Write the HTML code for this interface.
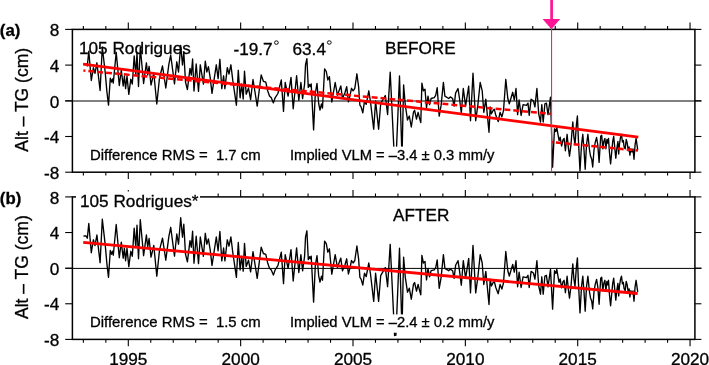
<!DOCTYPE html><html><head><meta charset="utf-8"><style>html,body{margin:0;padding:0;background:#fff;overflow:hidden}svg{display:block}</style></head><body><svg style="will-change:transform" width="709" height="365" viewBox="0 0 709 365">
<style>.tk{stroke:#000;stroke-width:1.1}.fr{fill:none;stroke:#000;stroke-width:1.5}.zl{stroke:#000;stroke-width:1}.tl{font-size:17.2px}text{font-family:"Liberation Sans",sans-serif;fill:#000;stroke:#000;stroke-width:0.3px}.dat{fill:none;stroke:#000;stroke-width:1.35;stroke-linejoin:round}.rs{stroke:#f00;stroke-width:2.8}.rd{stroke:#f00;stroke-width:2.5;stroke-dasharray:5.9 2.99}</style>
<rect width="709" height="365" fill="#fff"/>
<line x1="83.36" y1="29.40" x2="83.36" y2="26.00" class="tk"/>
<line x1="83.36" y1="172.20" x2="83.36" y2="175.60" class="tk"/>
<line x1="105.83" y1="29.40" x2="105.83" y2="26.00" class="tk"/>
<line x1="105.83" y1="172.20" x2="105.83" y2="175.60" class="tk"/>
<line x1="128.30" y1="29.40" x2="128.30" y2="22.60" class="tk"/>
<line x1="128.30" y1="172.20" x2="128.30" y2="179.00" class="tk"/>
<line x1="150.77" y1="29.40" x2="150.77" y2="26.00" class="tk"/>
<line x1="150.77" y1="172.20" x2="150.77" y2="175.60" class="tk"/>
<line x1="173.24" y1="29.40" x2="173.24" y2="26.00" class="tk"/>
<line x1="173.24" y1="172.20" x2="173.24" y2="175.60" class="tk"/>
<line x1="195.71" y1="29.40" x2="195.71" y2="26.00" class="tk"/>
<line x1="195.71" y1="172.20" x2="195.71" y2="175.60" class="tk"/>
<line x1="218.18" y1="29.40" x2="218.18" y2="26.00" class="tk"/>
<line x1="218.18" y1="172.20" x2="218.18" y2="175.60" class="tk"/>
<line x1="240.65" y1="29.40" x2="240.65" y2="22.60" class="tk"/>
<line x1="240.65" y1="172.20" x2="240.65" y2="179.00" class="tk"/>
<line x1="263.12" y1="29.40" x2="263.12" y2="26.00" class="tk"/>
<line x1="263.12" y1="172.20" x2="263.12" y2="175.60" class="tk"/>
<line x1="285.59" y1="29.40" x2="285.59" y2="26.00" class="tk"/>
<line x1="285.59" y1="172.20" x2="285.59" y2="175.60" class="tk"/>
<line x1="308.06" y1="29.40" x2="308.06" y2="26.00" class="tk"/>
<line x1="308.06" y1="172.20" x2="308.06" y2="175.60" class="tk"/>
<line x1="330.53" y1="29.40" x2="330.53" y2="26.00" class="tk"/>
<line x1="330.53" y1="172.20" x2="330.53" y2="175.60" class="tk"/>
<line x1="353.00" y1="29.40" x2="353.00" y2="22.60" class="tk"/>
<line x1="353.00" y1="172.20" x2="353.00" y2="179.00" class="tk"/>
<line x1="375.47" y1="29.40" x2="375.47" y2="26.00" class="tk"/>
<line x1="375.47" y1="172.20" x2="375.47" y2="175.60" class="tk"/>
<line x1="397.94" y1="29.40" x2="397.94" y2="26.00" class="tk"/>
<line x1="397.94" y1="172.20" x2="397.94" y2="175.60" class="tk"/>
<line x1="420.41" y1="29.40" x2="420.41" y2="26.00" class="tk"/>
<line x1="420.41" y1="172.20" x2="420.41" y2="175.60" class="tk"/>
<line x1="442.88" y1="29.40" x2="442.88" y2="26.00" class="tk"/>
<line x1="442.88" y1="172.20" x2="442.88" y2="175.60" class="tk"/>
<line x1="465.35" y1="29.40" x2="465.35" y2="22.60" class="tk"/>
<line x1="465.35" y1="172.20" x2="465.35" y2="179.00" class="tk"/>
<line x1="487.82" y1="29.40" x2="487.82" y2="26.00" class="tk"/>
<line x1="487.82" y1="172.20" x2="487.82" y2="175.60" class="tk"/>
<line x1="510.29" y1="29.40" x2="510.29" y2="26.00" class="tk"/>
<line x1="510.29" y1="172.20" x2="510.29" y2="175.60" class="tk"/>
<line x1="532.76" y1="29.40" x2="532.76" y2="26.00" class="tk"/>
<line x1="532.76" y1="172.20" x2="532.76" y2="175.60" class="tk"/>
<line x1="555.23" y1="29.40" x2="555.23" y2="26.00" class="tk"/>
<line x1="555.23" y1="172.20" x2="555.23" y2="175.60" class="tk"/>
<line x1="577.70" y1="29.40" x2="577.70" y2="22.60" class="tk"/>
<line x1="577.70" y1="172.20" x2="577.70" y2="179.00" class="tk"/>
<line x1="600.17" y1="29.40" x2="600.17" y2="26.00" class="tk"/>
<line x1="600.17" y1="172.20" x2="600.17" y2="175.60" class="tk"/>
<line x1="622.64" y1="29.40" x2="622.64" y2="26.00" class="tk"/>
<line x1="622.64" y1="172.20" x2="622.64" y2="175.60" class="tk"/>
<line x1="645.11" y1="29.40" x2="645.11" y2="26.00" class="tk"/>
<line x1="645.11" y1="172.20" x2="645.11" y2="175.60" class="tk"/>
<line x1="667.58" y1="29.40" x2="667.58" y2="26.00" class="tk"/>
<line x1="667.58" y1="172.20" x2="667.58" y2="175.60" class="tk"/>
<line x1="690.05" y1="29.40" x2="690.05" y2="22.60" class="tk"/>
<line x1="690.05" y1="172.20" x2="690.05" y2="179.00" class="tk"/>
<line x1="65.20" y1="172.20" x2="72.40" y2="172.20" class="tk"/>
<line x1="694.90" y1="172.20" x2="701.40" y2="172.20" class="tk"/>
<text x="59.4" y="178.90" text-anchor="end" class="tl">-8</text>
<line x1="65.20" y1="136.50" x2="72.40" y2="136.50" class="tk"/>
<line x1="694.90" y1="136.50" x2="701.40" y2="136.50" class="tk"/>
<text x="59.4" y="143.20" text-anchor="end" class="tl">-4</text>
<line x1="65.20" y1="100.80" x2="72.40" y2="100.80" class="tk"/>
<line x1="694.90" y1="100.80" x2="701.40" y2="100.80" class="tk"/>
<text x="59.4" y="107.50" text-anchor="end" class="tl">0</text>
<line x1="65.20" y1="65.10" x2="72.40" y2="65.10" class="tk"/>
<line x1="694.90" y1="65.10" x2="701.40" y2="65.10" class="tk"/>
<text x="59.4" y="71.80" text-anchor="end" class="tl">4</text>
<line x1="65.20" y1="29.40" x2="72.40" y2="29.40" class="tk"/>
<line x1="694.90" y1="29.40" x2="701.40" y2="29.40" class="tk"/>
<text x="59.4" y="36.10" text-anchor="end" class="tl">8</text>
<line x1="65.20" y1="101.00" x2="701.40" y2="101.00" class="zl"/>
<line x1="83.36" y1="196.90" x2="83.36" y2="193.50" class="tk"/>
<line x1="83.36" y1="339.40" x2="83.36" y2="342.80" class="tk"/>
<line x1="105.83" y1="196.90" x2="105.83" y2="193.50" class="tk"/>
<line x1="105.83" y1="339.40" x2="105.83" y2="342.80" class="tk"/>
<line x1="128.30" y1="196.90" x2="128.30" y2="190.10" class="tk"/>
<line x1="128.30" y1="339.40" x2="128.30" y2="346.20" class="tk"/>
<line x1="150.77" y1="196.90" x2="150.77" y2="193.50" class="tk"/>
<line x1="150.77" y1="339.40" x2="150.77" y2="342.80" class="tk"/>
<line x1="173.24" y1="196.90" x2="173.24" y2="193.50" class="tk"/>
<line x1="173.24" y1="339.40" x2="173.24" y2="342.80" class="tk"/>
<line x1="195.71" y1="196.90" x2="195.71" y2="193.50" class="tk"/>
<line x1="195.71" y1="339.40" x2="195.71" y2="342.80" class="tk"/>
<line x1="218.18" y1="196.90" x2="218.18" y2="193.50" class="tk"/>
<line x1="218.18" y1="339.40" x2="218.18" y2="342.80" class="tk"/>
<line x1="240.65" y1="196.90" x2="240.65" y2="190.10" class="tk"/>
<line x1="240.65" y1="339.40" x2="240.65" y2="346.20" class="tk"/>
<line x1="263.12" y1="196.90" x2="263.12" y2="193.50" class="tk"/>
<line x1="263.12" y1="339.40" x2="263.12" y2="342.80" class="tk"/>
<line x1="285.59" y1="196.90" x2="285.59" y2="193.50" class="tk"/>
<line x1="285.59" y1="339.40" x2="285.59" y2="342.80" class="tk"/>
<line x1="308.06" y1="196.90" x2="308.06" y2="193.50" class="tk"/>
<line x1="308.06" y1="339.40" x2="308.06" y2="342.80" class="tk"/>
<line x1="330.53" y1="196.90" x2="330.53" y2="193.50" class="tk"/>
<line x1="330.53" y1="339.40" x2="330.53" y2="342.80" class="tk"/>
<line x1="353.00" y1="196.90" x2="353.00" y2="190.10" class="tk"/>
<line x1="353.00" y1="339.40" x2="353.00" y2="346.20" class="tk"/>
<line x1="375.47" y1="196.90" x2="375.47" y2="193.50" class="tk"/>
<line x1="375.47" y1="339.40" x2="375.47" y2="342.80" class="tk"/>
<line x1="397.94" y1="196.90" x2="397.94" y2="193.50" class="tk"/>
<line x1="397.94" y1="339.40" x2="397.94" y2="342.80" class="tk"/>
<line x1="420.41" y1="196.90" x2="420.41" y2="193.50" class="tk"/>
<line x1="420.41" y1="339.40" x2="420.41" y2="342.80" class="tk"/>
<line x1="442.88" y1="196.90" x2="442.88" y2="193.50" class="tk"/>
<line x1="442.88" y1="339.40" x2="442.88" y2="342.80" class="tk"/>
<line x1="465.35" y1="196.90" x2="465.35" y2="190.10" class="tk"/>
<line x1="465.35" y1="339.40" x2="465.35" y2="346.20" class="tk"/>
<line x1="487.82" y1="196.90" x2="487.82" y2="193.50" class="tk"/>
<line x1="487.82" y1="339.40" x2="487.82" y2="342.80" class="tk"/>
<line x1="510.29" y1="196.90" x2="510.29" y2="193.50" class="tk"/>
<line x1="510.29" y1="339.40" x2="510.29" y2="342.80" class="tk"/>
<line x1="532.76" y1="196.90" x2="532.76" y2="193.50" class="tk"/>
<line x1="532.76" y1="339.40" x2="532.76" y2="342.80" class="tk"/>
<line x1="555.23" y1="196.90" x2="555.23" y2="193.50" class="tk"/>
<line x1="555.23" y1="339.40" x2="555.23" y2="342.80" class="tk"/>
<line x1="577.70" y1="196.90" x2="577.70" y2="190.10" class="tk"/>
<line x1="577.70" y1="339.40" x2="577.70" y2="346.20" class="tk"/>
<line x1="600.17" y1="196.90" x2="600.17" y2="193.50" class="tk"/>
<line x1="600.17" y1="339.40" x2="600.17" y2="342.80" class="tk"/>
<line x1="622.64" y1="196.90" x2="622.64" y2="193.50" class="tk"/>
<line x1="622.64" y1="339.40" x2="622.64" y2="342.80" class="tk"/>
<line x1="645.11" y1="196.90" x2="645.11" y2="193.50" class="tk"/>
<line x1="645.11" y1="339.40" x2="645.11" y2="342.80" class="tk"/>
<line x1="667.58" y1="196.90" x2="667.58" y2="193.50" class="tk"/>
<line x1="667.58" y1="339.40" x2="667.58" y2="342.80" class="tk"/>
<line x1="690.05" y1="196.90" x2="690.05" y2="190.10" class="tk"/>
<line x1="690.05" y1="339.40" x2="690.05" y2="346.20" class="tk"/>
<line x1="65.20" y1="339.40" x2="72.40" y2="339.40" class="tk"/>
<line x1="694.90" y1="339.40" x2="701.40" y2="339.40" class="tk"/>
<text x="59.4" y="346.10" text-anchor="end" class="tl">-8</text>
<line x1="65.20" y1="303.77" x2="72.40" y2="303.77" class="tk"/>
<line x1="694.90" y1="303.77" x2="701.40" y2="303.77" class="tk"/>
<text x="59.4" y="310.47" text-anchor="end" class="tl">-4</text>
<line x1="65.20" y1="268.15" x2="72.40" y2="268.15" class="tk"/>
<line x1="694.90" y1="268.15" x2="701.40" y2="268.15" class="tk"/>
<text x="59.4" y="274.85" text-anchor="end" class="tl">0</text>
<line x1="65.20" y1="232.52" x2="72.40" y2="232.52" class="tk"/>
<line x1="694.90" y1="232.52" x2="701.40" y2="232.52" class="tk"/>
<text x="59.4" y="239.22" text-anchor="end" class="tl">4</text>
<line x1="65.20" y1="196.90" x2="72.40" y2="196.90" class="tk"/>
<line x1="694.90" y1="196.90" x2="701.40" y2="196.90" class="tk"/>
<text x="59.4" y="203.60" text-anchor="end" class="tl">8</text>
<line x1="65.20" y1="268.40" x2="701.40" y2="268.40" class="zl"/>
<rect x="72.4" y="29.4" width="622.50" height="142.80" class="fr"/>
<rect x="72.4" y="196.9" width="622.50" height="142.50" class="fr"/>
<text x="128.30" y="365" text-anchor="middle" class="tl">1995</text>
<text x="240.65" y="365" text-anchor="middle" class="tl">2000</text>
<text x="353.00" y="365" text-anchor="middle" class="tl">2005</text>
<text x="465.35" y="365" text-anchor="middle" class="tl">2010</text>
<text x="577.70" y="365" text-anchor="middle" class="tl">2015</text>
<text x="690.05" y="365" text-anchor="middle" class="tl">2020</text>
<polyline class="dat" points="83.5,63.8 86.1,63.8 87.3,66.0 88.8,51.3 91.3,80.5 93.4,67.6 95.0,73.4 96.9,62.8 100.1,90.5 102.3,47.0 105.3,73.4 106.9,91.6 108.5,105.1 110.3,78.2 111.5,82.0 112.5,79.0 113.3,83.0 116.2,52.3 119.3,85.5 121.3,70.0 123.2,86.0 124.4,76.0 125.6,88.6 127.0,76.0 128.8,94.4 130.8,79.1 132.3,84.0 134.2,56.0 135.8,75.0 137.0,53.0 138.5,86.5 140.3,47.5 143.6,83.5 146.4,62.8 147.7,75.0 149.1,66.3 151.0,85.0 153.8,73.3 156.8,104.0 159.5,78.0 162.5,66.0 165.8,88.0 168.8,64.7 170.7,55.1 174.5,83.9 176.8,61.8 178.5,72.0 180.7,45.5 182.5,65.0 183.8,52.0 185.5,82.0 187.4,89.6 190.0,68.4 191.3,75.0 192.6,59.0 194.0,91.0 196.2,64.0 198.5,91.4 200.3,64.8 203.4,84.1 205.3,61.1 206.8,72.0 208.4,66.7 210.2,77.7 212.0,93.3 216.3,64.8 218.1,78.6 219.9,59.3 221.8,88.7 223.6,75.8 224.9,88.7 227.3,67.6 229.0,74.0 230.9,64.8 232.8,80.4 236.4,105.2 238.3,70.3 240.1,97.8 241.7,84.0 243.2,99.0 244.5,71.2 246.2,94.2 248.5,88.0 250.6,99.7 253.0,79.5 257.2,106.1 261.2,74.9 263.4,81.3 265.8,82.2 267.6,90.5 269.5,96.0 271.3,97.8 273.4,102.9 275.1,97.8 277.9,93.5 281.3,80.0 283.5,111.4 285.2,82.5 288.1,96.1 291.0,77.4 293.2,108.8 296.6,75.7 298.8,100.3 300.9,82.5 302.6,98.6 304.6,84.0 305.5,65.0 306.9,58.6 308.3,87.4 309.6,84.5 310.3,86.5 311.2,83.9 313.6,129.9 315.3,93.5 317.0,83.4 318.7,103.7 320.0,110.0 321.5,104.0 322.5,108.0 324.6,68.9 326.3,71.5 327.8,80.0 329.4,76.6 331.8,102.0 335.2,82.5 337.4,95.2 340.8,85.9 342.5,98.6 345.0,92.5 346.7,86.6 348.4,101.8 350.1,95.1 351.5,88.3 353.1,90.8 354.8,88.3 356.9,73.8 358.6,86.6 359.9,105.2 361.1,106.9 362.8,112.9 364.5,101.0 366.2,104.4 368.8,90.8 370.5,101.8 373.7,129.2 375.6,101.0 378.6,129.2 380.7,103.5 385.3,95.5 387.6,114.5 390.2,72.1 394.6,163.3 395.9,163.0 399.5,76.0 402.0,158.0 403.6,84.9 405.3,105.2 407.5,120.0 409.3,116.0 411.3,127.0 413.5,112.0 414.6,110.3 416.5,119.0 418.1,112.3 419.6,118.4 420.8,122.5 421.9,83.1 423.4,90.8 425.0,89.3 426.5,107.7 428.0,96.2 429.6,104.6 431.1,98.5 434.2,97.7 435.7,95.4 437.2,87.7 439.2,116.1 441.1,105.4 443.4,82.4 444.9,96.2 448.7,98.5 450.3,96.9 452.6,98.5 454.1,106.1 455.6,93.1 458.0,88.5 459.5,98.5 461.3,113.0 463.3,88.5 465.6,106.1 468.7,86.2 470.5,120.7 473.0,73.2 475.7,120.7 477.9,104.6 480.2,82.4 482.2,90.8 483.8,112.3 485.8,99.2 489.0,132.3 490.2,106.9 491.4,113.8 493.0,110.7 494.3,109.2 495.8,115.3 498.2,121.5 500.1,112.3 501.9,116.9 503.5,110.7 505.8,79.3 507.8,98.5 509.3,103.8 511.1,97.7 512.7,92.3 514.3,100.0 516.0,88.5 517.6,114.6 519.1,100.0 521.1,115.3 523.1,104.6 526.5,105.4 528.0,103.1 529.2,115.3 531.1,99.2 533.4,100.8 534.9,106.9 536.9,88.5 538.7,113.8 540.5,122.0 541.8,104.6 543.2,122.0 544.9,103.8 546.4,103.1 548.0,114.6 550.5,97.2 552.6,167.2 554.5,128.8 555.8,131.6 556.8,127.5 558.2,135.7 559.1,140.5 560.2,137.1 561.6,146.0 563.0,139.8 564.1,138.4 565.4,150.8 567.1,134.3 568.4,148.0 569.5,156.2 570.9,145.3 572.8,122.0 573.9,137.1 575.0,144.6 576.4,124.7 577.4,116.0 578.4,140.0 580.0,171.0 581.5,145.0 582.8,134.3 584.0,150.0 585.2,169.3 586.5,145.0 587.9,134.3 589.5,150.0 590.5,156.0 591.7,159.0 592.7,167.0 594.0,150.0 595.2,142.5 596.6,137.5 597.8,145.0 599.1,162.4 600.7,136.3 601.7,135.3 602.8,148.8 603.8,141.5 604.9,138.4 605.9,148.8 606.9,139.5 607.7,143.0 608.5,138.4 609.5,153.0 610.6,163.9 612.7,141.5 613.7,136.3 614.8,148.0 615.8,158.2 616.8,148.8 617.9,141.5 618.7,154.0 619.4,144.7 620.5,137.4 621.5,134.3 622.4,142.0 623.3,140.5 624.1,146.8 625.2,148.8 626.2,139.5 627.2,143.0 628.3,150.9 629.1,147.0 629.9,155.1 630.9,148.8 632.0,152.0 633.0,149.0 634.0,159.3 635.1,144.7 636.1,138.4 637.7,149.9"/>
<polyline class="dat" points="83.5,236.0 86.1,236.0 87.3,238.2 88.8,223.5 91.3,252.7 93.4,239.8 95.0,245.6 96.9,235.0 100.1,262.7 102.3,219.2 105.3,245.6 106.9,263.8 108.5,277.3 110.3,250.4 111.5,254.2 112.5,251.2 113.3,255.2 116.2,224.5 119.3,257.7 121.3,242.2 123.2,258.2 124.4,248.2 125.6,260.8 127.0,248.2 128.8,266.6 130.8,251.3 132.3,256.2 134.2,228.2 135.8,247.2 137.0,225.2 138.5,258.7 140.3,219.7 143.6,255.7 146.4,235.0 147.7,247.2 149.1,238.5 151.0,257.2 153.8,245.5 156.8,276.2 159.5,250.2 162.5,238.2 165.8,260.2 168.8,236.9 170.7,227.3 174.5,256.1 176.8,234.0 178.5,244.2 180.7,217.7 182.5,237.2 183.8,224.2 185.5,254.2 187.4,261.8 190.0,240.6 191.3,247.2 192.6,231.2 194.0,263.2 196.2,236.2 198.5,263.6 200.3,237.0 203.4,256.3 205.3,233.3 206.8,244.2 208.4,238.9 210.2,249.9 212.0,265.5 216.3,237.0 218.1,250.8 219.9,231.5 221.8,260.9 223.6,248.0 224.9,260.9 227.3,239.8 229.0,246.2 230.9,237.0 232.8,252.6 236.4,277.4 238.3,242.5 240.1,270.0 241.7,256.2 243.2,271.2 244.5,243.4 246.2,266.4 248.5,260.2 250.6,271.9 253.0,251.7 257.2,278.3 261.2,247.1 263.4,253.5 265.8,254.4 267.6,262.7 269.5,268.2 271.3,270.0 273.4,275.1 275.1,270.0 277.9,265.7 281.3,252.2 283.5,283.6 285.2,254.7 288.1,268.3 291.0,249.6 293.2,281.0 296.6,247.9 298.8,272.5 300.9,254.7 302.6,270.8 304.6,256.2 305.5,237.2 306.9,230.8 308.3,259.6 309.6,256.7 310.3,258.7 311.2,256.1 313.6,302.1 315.3,265.7 317.0,255.6 318.7,275.9 320.0,282.2 321.5,276.2 322.5,280.2 324.6,241.1 326.3,243.7 327.8,252.2 329.4,248.8 331.8,274.2 335.2,254.7 337.4,267.4 340.8,258.1 342.5,270.8 345.0,264.7 346.7,258.8 348.4,274.0 350.1,267.3 351.5,260.5 353.1,263.0 354.8,260.5 356.9,246.0 358.6,258.8 359.9,277.4 361.1,279.1 362.8,285.1 364.5,273.2 366.2,276.6 368.8,263.0 370.5,274.0 373.7,301.4 375.6,273.2 378.6,301.4 380.7,275.7 385.3,267.7 387.6,286.7 390.2,244.3 394.6,335.5 395.9,335.2 399.5,248.2 402.0,330.2 403.6,257.1 405.3,277.4 407.5,292.2 409.3,288.2 411.3,299.2 413.5,284.2 414.6,282.5 416.5,291.2 418.1,284.5 419.6,290.6 420.8,294.7 421.9,255.3 423.4,263.0 425.0,261.5 426.5,279.9 428.0,268.4 429.6,276.8 431.1,270.7 434.2,269.9 435.7,267.6 437.2,259.9 439.2,288.3 441.1,277.6 443.4,254.6 444.9,268.4 448.7,270.7 450.3,269.1 452.6,270.7 454.1,278.3 455.6,265.3 458.0,260.7 459.5,270.7 461.3,285.2 463.3,260.7 465.6,278.3 468.7,258.4 470.5,292.9 473.0,245.4 475.7,292.9 477.9,276.8 480.2,254.6 482.2,263.0 483.8,284.5 485.8,271.4 489.0,304.5 490.2,279.1 491.4,286.0 493.0,282.9 494.3,281.4 495.8,287.5 498.2,293.7 500.1,284.5 501.9,289.1 503.5,282.9 505.8,251.5 507.8,270.7 509.3,276.0 511.1,269.9 512.7,264.5 514.3,272.2 516.0,260.7 517.6,286.8 519.1,272.2 521.1,287.5 523.1,276.8 526.5,277.6 528.0,275.3 529.2,287.5 531.1,271.4 533.4,273.0 534.9,279.1 536.9,260.7 538.7,286.0 540.5,294.2 541.8,276.8 543.2,294.2 544.9,276.0 546.4,275.3 548.0,286.8 550.5,269.4 552.6,309.1 554.5,270.7 555.8,273.5 556.8,269.4 558.2,277.6 559.1,282.4 560.2,279.0 561.6,287.9 563.0,281.7 564.1,280.3 565.4,292.7 567.1,276.2 568.4,289.9 569.5,298.1 570.9,287.2 572.8,263.9 573.9,279.0 575.0,286.5 576.4,266.6 577.4,257.9 578.4,281.9 580.0,312.9 581.5,286.9 582.8,276.2 584.0,291.9 585.2,311.2 586.5,286.9 587.9,276.2 589.5,291.9 590.5,297.9 591.7,300.9 592.7,308.9 594.0,291.9 595.2,284.4 596.6,279.4 597.8,286.9 599.1,304.3 600.7,278.2 601.7,277.2 602.8,290.7 603.8,283.4 604.9,280.3 605.9,290.7 606.9,281.4 607.7,284.9 608.5,280.3 609.5,294.9 610.6,305.8 612.7,283.4 613.7,278.2 614.8,289.9 615.8,300.1 616.8,290.7 617.9,283.4 618.7,295.9 619.4,286.6 620.5,279.3 621.5,276.2 622.4,283.9 623.3,282.4 624.1,288.7 625.2,290.7 626.2,281.4 627.2,284.9 628.3,292.8 629.1,288.9 629.9,297.0 630.9,290.7 632.0,293.9 633.0,290.9 634.0,301.2 635.1,286.6 636.1,280.3 637.7,291.8"/>
<line x1="83.1" y1="64.1" x2="638.3" y2="137.2" class="rs"/>
<line x1="83.4" y1="70.6" x2="550.5" y2="113.8" class="rd" style="stroke-dashoffset:3.9"/>
<line x1="551.6" y1="142" x2="638" y2="150.6" class="rd" style="stroke-dashoffset:4.6"/>
<line x1="83.2" y1="242.4" x2="637.7" y2="293.5" class="rs"/>
<text x="-0.2" y="35.9" style="font-weight:bold;font-size:16.8px">(a)</text>
<text x="79" y="54.2" style="font-size:17.2px">105 Rodrigues</text>
<text x="233.5" y="54.6" style="font-size:17.2px">-19.7</text>
<ellipse cx="276.4" cy="42.6" rx="1.9" ry="1.75" fill="none" stroke="#000" stroke-width="0.95"/>
<text x="292.5" y="54.6" style="font-size:17.2px">63.4</text>
<ellipse cx="329.3" cy="42.5" rx="1.9" ry="1.75" fill="none" stroke="#000" stroke-width="0.95"/>
<text x="385" y="53.9" style="font-size:17.2px">BEFORE</text>
<text x="90" y="159.9" style="font-size:14.9px;white-space:pre">Difference RMS =  1.7 cm</text>
<rect x="288.5" y="146.6" width="208" height="18.3" fill="#fff"/>
<text x="290" y="159.6" style="font-size:14.75px">Implied VLM = –3.4 ± 0.3 mm/y</text>
<rect x="76" y="191.5" width="124" height="16" fill="#fff"/>
<text x="-0.2" y="203.6" style="font-weight:bold;font-size:16.8px">(b)</text>
<text x="80" y="206.8" style="font-size:17.2px">105 Rodrigues*</text>
<text x="393" y="221.2" style="font-size:17.2px">AFTER</text>
<text x="90" y="327" style="font-size:14.9px;white-space:pre">Difference RMS =  1.5 cm</text>
<rect x="288.5" y="314.4" width="208" height="18.3" fill="#fff"/>
<text x="290" y="327" style="font-size:14.75px">Implied VLM = –2.4 ± 0.2 mm/y</text>
<text transform="translate(27.5,99.8) rotate(-90)" text-anchor="middle" style="font-size:17.5px">Alt – TG (cm)</text>
<text transform="translate(27.5,267.1) rotate(-90)" text-anchor="middle" style="font-size:17.5px">Alt – TG (cm)</text>
<line x1="551.55" y1="29" x2="551.55" y2="172.2" stroke="#ff1493" stroke-width="1.1"/>
<line x1="551.6" y1="0" x2="551.6" y2="20" stroke="#ff1493" stroke-width="2.7"/>
<polygon points="542.6,18.9 560.2,18.9 551.4,29.3" fill="#ff1493"/>
</svg></body></html>
